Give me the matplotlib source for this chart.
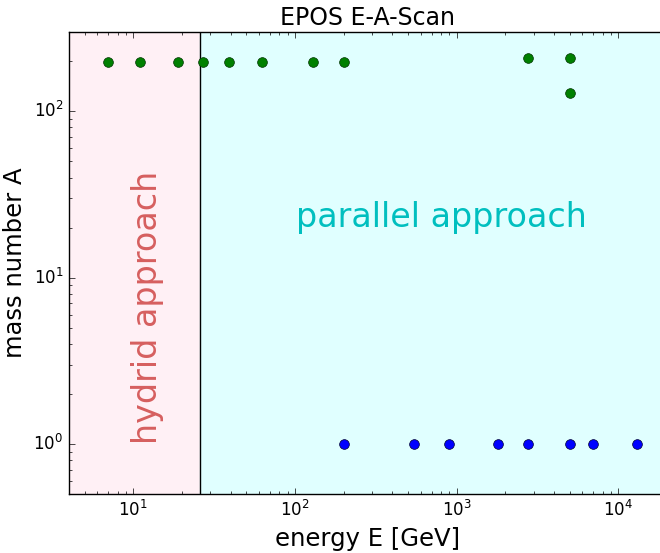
import matplotlib
matplotlib.use('Agg')
import matplotlib.pyplot as plt

# heavy ion systems (sqrt(s_NN) in GeV, mass number A)
au_energy = [7.0, 11.0, 19.0, 27.0, 39.0, 62.4, 130.0, 200.0]
au_mass = [197] * len(au_energy)
pb_energy = [2760.0, 5020.0]
pb_mass = [208, 208]
xe_energy = [5020.0]
xe_mass = [129]

# proton-proton
pp_energy = [200.0, 546.0, 900.0, 1800.0, 2760.0, 5020.0, 7000.0, 13000.0, 20000.0]
pp_mass = [1] * len(pp_energy)

e_split = 26.0
e_min, e_max = 4.0, 2.0e4
a_min, a_max = 0.5, 300.0

plt.style.use('classic')
plt.rcParams['font.family'] = 'DejaVu Sans'

fig = plt.figure(figsize=(6.6, 5.53), dpi=100, facecolor='white')
# axes runs a little past the right edge of the picture, like the original crop
ax = fig.add_axes([0.1045, 0.1067, 0.906, 0.8354])

ax.set_xscale('log')
ax.set_yscale('log')
ax.set_xlim(e_min, e_max)
ax.set_ylim(a_min, a_max)

ax.axvspan(e_min, e_split, color='lavenderblush', zorder=0)
ax.axvspan(e_split, e_max, color='lightcyan', zorder=0)
ax.axvline(e_split, color='black', lw=1.0, zorder=1)

ax.plot(au_energy, au_mass, 'o', color='green', ms=7, mec='#003300', mew=0.5, zorder=3)
ax.plot(pb_energy, pb_mass, 'o', color='green', ms=7, mec='#003300', mew=0.5, zorder=3)
ax.plot(xe_energy, xe_mass, 'o', color='green', ms=7, mec='#003300', mew=0.5, zorder=3)
ax.plot(pp_energy, pp_mass, 'o', color='blue', ms=7, mec='#000033', mew=0.5, zorder=3)

ax.text(12.2, 6.6, 'hydrid approach', rotation=90, color='#d65f5f', fontsize=24,
        ha='center', va='center')
ax.text(800, 23, 'parallel approach', color='#00bfbf', fontsize=24,
        ha='center', va='center')

ax.set_title('EPOS E-A-Scan', fontsize=17)
ax.set_xlabel('energy E [GeV]', fontsize=17.5)
ax.set_ylabel('mass number A', fontsize=17.5)
ax.tick_params(labelsize=12)

fig.savefig('out.png', dpi=100, facecolor='white')
